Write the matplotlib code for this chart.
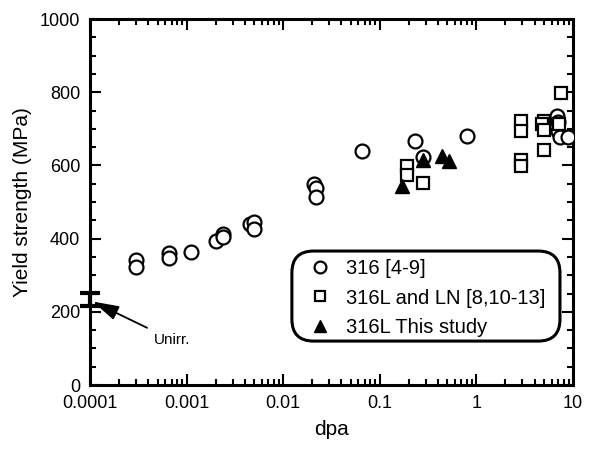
import matplotlib
matplotlib.use("Agg")
import matplotlib.pyplot as plt
from matplotlib.patches import FancyBboxPatch
from matplotlib.ticker import MultipleLocator, LogLocator, FixedFormatter, FixedLocator

plt.rcParams['font.family'] = ['Liberation Sans', 'DejaVu Sans']

# 316 [4-9]
circ_x = [0.0003, 0.0003, 0.00066, 0.00066, 0.0011, 0.002, 0.0024, 0.0024,
          0.0045, 0.005, 0.005, 0.021, 0.022, 0.022, 0.065, 0.23, 0.28, 0.8,
          6.8, 7.0, 7.0, 7.3, 8.8]
circ_y = [342, 323, 361, 348, 364, 393, 412, 405,
          440, 444, 425, 548, 537, 515, 638, 666, 622, 679,
          734, 718, 693, 677, 677]

# 316L and LN [8,10-13]
sq_x = [0.19, 0.19, 0.28, 2.9, 2.9, 2.9, 2.9, 5.0, 4.8, 5.0, 5.0, 7.5, 7.2]
sq_y = [597, 575, 553, 720, 693, 616, 598, 720, 712, 698, 643, 798, 712]

# 316L This study
tri_x = [0.17, 0.28, 0.44, 0.52]
tri_y = [543, 614, 625, 612]

# unirradiated
unirr_x = 0.0001
unirr_y = 234
unirr_err = 18

fig = plt.figure(figsize=(5.95, 4.5), dpi=100)
ax = fig.add_axes([90/595, 65/450, 483/595, 366/450])

ax.plot(circ_x, circ_y, 'o', mfc='white', mec='black', mew=1.6, ms=10,
        ls='none', label='316 [4-9]', zorder=3)
ax.plot(sq_x, sq_y, 's', mfc='white', mec='black', mew=1.6, ms=8,
        ls='none', label='316L and LN [8,10-13]', zorder=3)
ax.plot(tri_x, tri_y, '^', mfc='black', mec='black', ms=10,
        ls='none', label='316L This study', zorder=4)

ax.errorbar([unirr_x], [unirr_y], yerr=[unirr_err], fmt='none', ecolor='black',
            elinewidth=3, capsize=7, capthick=3, clip_on=False, zorder=5)

ax.annotate('Unirr.', xy=(0.000107, 228), xytext=(0.00046, 123),
            fontsize=11, va='center', ha='left',
            arrowprops=dict(arrowstyle='-|>,head_length=1.6,head_width=0.45',
                            color='black', lw=1.3, mutation_scale=10,
                            shrinkA=4, shrinkB=0))

ax.set_xscale('log')
ax.set_xlim(0.0001, 10)
ax.set_ylim(0, 1000)

ax.xaxis.set_major_locator(FixedLocator([0.0001, 0.001, 0.01, 0.1, 1, 10]))
ax.xaxis.set_major_formatter(FixedFormatter(['0.0001', '0.001', '0.01', '0.1', '1', '10']))
ax.xaxis.set_minor_locator(LogLocator(base=10, subs=range(2, 10)))
ax.yaxis.set_major_locator(MultipleLocator(200))
ax.yaxis.set_minor_locator(MultipleLocator(50))

ax.tick_params(which='both', direction='in', top=True, right=True, labelsize=13, width=1.5)
ax.tick_params(which='major', length=8, pad=7)
ax.tick_params(which='minor', length=4)
for s in ax.spines.values():
    s.set_linewidth(2.2)

ax.set_xlabel('dpa', fontsize=15, labelpad=6)
ax.set_ylabel('Yield strength (MPa)', fontsize=15, labelpad=6)

# rounded legend box
box = FancyBboxPatch((0.418, 0.120), 0.973 - 0.418, 0.366 - 0.120,
                     boxstyle='round,pad=0,rounding_size=0.045',
                     mutation_aspect=1.32, transform=ax.transAxes,
                     facecolor='white', edgecolor='black', lw=2.2, zorder=6)
ax.add_patch(box)

leg = ax.legend(loc='upper left', bbox_to_anchor=(0.456, 0.343), fontsize=14.5,
                frameon=False, handletextpad=0.8, borderpad=0, markerscale=0.85,
                labelspacing=0.5, handlelength=1.0, borderaxespad=0)
leg.set_zorder(7)

fig.savefig('out.png', dpi=100)
